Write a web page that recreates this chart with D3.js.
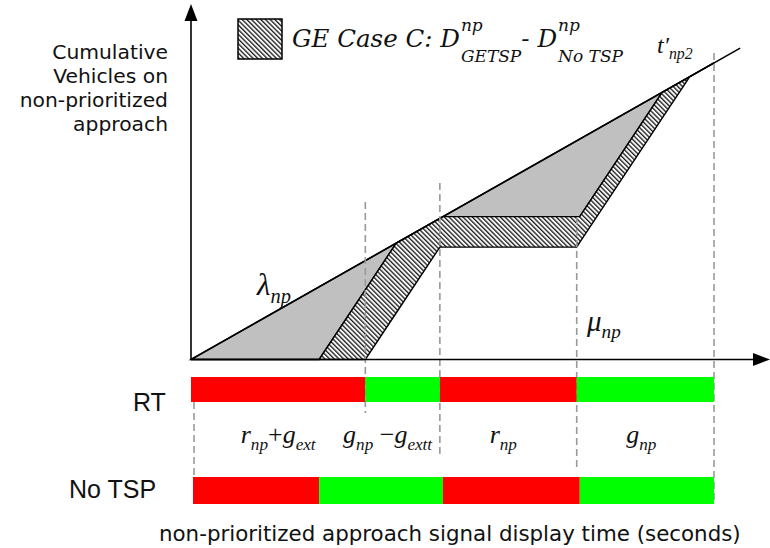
<!DOCTYPE html>
<html><head><meta charset="utf-8">
<script src="https://cdn.jsdelivr.net/npm/d3@7"></script>
<style>body{margin:0;background:#fff}</style>
</head><body><svg id="c" width="770" height="548"></svg>
<script>
// ---------------- data ----------------
const arrivalRate = 0.5;            // lambda_np (veh/s)
const saturationFlow = 1.33;        // mu_np (veh/s)
const arrivalEnd = 126;             // last time drawn for the arrival line
const phaseColors = ["red", "green", "red", "green"];
const rtPhaseEnds = [40, 57.1, 88.5, 120];      // RT (GE TSP) signal
const noTspPhaseEnds = [29.4, 57.8, 89.2, 120]; // No TSP signal
const signalRows = ["RT", "No TSP"];
const phaseLabels = [
  [["r","np"],["+"],["g","ext"]],
  [["g","np"],[" \u2212"],["g","extt"]],
  [["r","np"]],
  [["g","np"]]
];
const yTitleLines = ["Cumulative", "Vehicles on", "non-prioritized", "approach"];
const xTitle = "non-prioritized approach signal display time (seconds)";

// ---------------- setup ----------------
const svg = d3.select("#c");
const x = d3.scaleLinear().domain([0, 120]).range([191, 714]);
const y = d3.scaleLinear().domain([0, 70]).range([359.5, 13.5]);
const colorMap = {red: "#ff0000", green: "#00ff00"};

const defs = svg.append("defs");
const pat = defs.append("pattern").attr("id", "hatch")
  .attr("patternUnits", "userSpaceOnUse").attr("width", 8).attr("height", 3.3)
  .attr("patternTransform", "rotate(45)");
pat.append("rect").attr("width", 8).attr("height", 3.3).attr("fill", "#fff");
pat.append("line").attr("x1", 0).attr("x2", 8).attr("y1", 1).attr("y2", 1)
  .attr("stroke", "#222").attr("stroke-width", 1.4);

// cumulative departure curve from a signal plan
function departures(ends, colors) {
  const pts = [[0, 0]];
  let t = 0, D = 0;
  ends.forEach((e, i) => {
    if (colors[i] === "red") { pts.push([e, D]); }
    else {
      const A0 = arrivalRate * t;
      if (D >= A0 - 1e-9) { D = arrivalRate * e; pts.push([e, D]); }
      else {
        const tc = (D - saturationFlow * t) / (arrivalRate - saturationFlow);
        if (tc < e) { pts.push([tc, arrivalRate * tc]); D = arrivalRate * e; pts.push([e, D]); }
        else { D = D + saturationFlow * (e - t); pts.push([e, D]); }
      }
    }
    t = e;
  });
  return pts;
}
function evalAt(pts, t) {
  for (let i = 1; i < pts.length; i++) {
    if (t <= pts[i][0] + 1e-9) {
      const [t0, v0] = pts[i - 1], [t1, v1] = pts[i];
      return t1 === t0 ? v1 : v0 + (v1 - v0) * (t - t0) / (t1 - t0);
    }
  }
  return pts[pts.length - 1][1];
}
const D0 = departures(noTspPhaseEnds, phaseColors);
const D1 = departures(rtPhaseEnds, phaseColors);

const line = d3.line().x(d => x(d[0])).y(d => y(d[1]));

// gray: No TSP delay (between arrival and No TSP departure)
const grayPts = [[0, 0], [120, arrivalRate * 120]].concat(D0.slice().reverse());
svg.append("path").attr("d", line(grayPts) + "Z")
  .attr("fill", "#c0c0c0").attr("stroke", "#000").attr("stroke-width", 1.4);

// hatched: difference between No TSP departure and RT departure
const ts = Array.from(new Set(D0.map(d => d[0]).concat(D1.map(d => d[0])))).sort((a, b) => a - b);
const upper = ts.map(t => [t, evalAt(D0, t)]);
const lower = ts.map(t => [t, evalAt(D1, t)]).reverse();
svg.append("path").attr("d", line(upper.concat(lower)) + "Z")
  .attr("fill", "url(#hatch)").attr("stroke", "#000").attr("stroke-width", 1.4);

// arrival line
svg.append("path").attr("d", line([[0, 0], [arrivalEnd, arrivalRate * arrivalEnd]]))
  .attr("fill", "none").attr("stroke", "#000").attr("stroke-width", 1.6);

// dashed guide lines
const dashed = [
  {t: 0, y1: 402, y2: 479, dx: 3},
  {t: rtPhaseEnds[0], y1: 202, y2: 413, dx: 0},
  {t: rtPhaseEnds[1], y1: 183, y2: 457, dx: 0},
  {t: rtPhaseEnds[2], y1: 218, y2: 470, dx: 0},
  {t: rtPhaseEnds[3], y1: 53, y2: 504, dx: 0}
];
svg.selectAll(".dash").data(dashed).join("line")
  .attr("x1", d => x(d.t) + d.dx).attr("x2", d => x(d.t) + d.dx)
  .attr("y1", d => d.y1).attr("y2", d => d.y2)
  .attr("stroke", "#999").attr("stroke-width", 1.6).attr("stroke-dasharray", "7,4");

// axes
svg.append("line").attr("x1", x(0)).attr("x2", 757).attr("y1", y(0)).attr("y2", y(0))
  .attr("stroke", "#000").attr("stroke-width", 1.6);
svg.append("path").attr("d", `M770,${y(0)} L753,${y(0) - 6.5} L753,${y(0) + 6.5} Z`).attr("fill", "#000");
svg.append("line").attr("x1", x(0)).attr("x2", x(0)).attr("y1", y(0)).attr("y2", 18)
  .attr("stroke", "#000").attr("stroke-width", 1.6);
svg.append("path").attr("d", `M${x(0)},4 L${x(0) - 6.5},21 L${x(0) + 6.5},21 Z`).attr("fill", "#000");

// signal bars
function phases(ends) {
  return ends.map((e, i) => ({s: i ? ends[i - 1] : 0, e, c: phaseColors[i]}));
}
const rows = [
  {name: signalRows[0], ph: phases(rtPhaseEnds), y: 377, h: 25, lx: 133, ly: 411, inset: 0},
  {name: signalRows[1], ph: phases(noTspPhaseEnds), y: 477, h: 27, lx: 69, ly: 498, inset: 2}
];
rows.forEach((r, ri) => {
  svg.selectAll(".bar" + ri).data(r.ph).join("rect")
    .attr("x", d => x(d.s) + (d.s === 0 ? r.inset : 0)).attr("y", r.y)
    .attr("width", d => x(d.e) - x(d.s) - (d.s === 0 ? r.inset : 0)).attr("height", r.h)
    .attr("fill", d => colorMap[d.c]);
  svg.append("text").attr("x", r.lx).attr("y", r.ly).text(r.name)
    .attr("font-family", "Liberation Sans, Arial, sans-serif").attr("font-size", 25).attr("fill", "#111");
});

// math-like labels
function mathText(parent, parts, xPos, yPos, size, anchor) {
  const t = parent.append("text").attr("x", xPos).attr("y", yPos)
    .attr("font-family", "Liberation Serif, Times New Roman, serif")
    .attr("font-size", size).attr("text-anchor", anchor || "middle").attr("fill", "#111");
  let pending = 0;
  parts.forEach(p => {
    const m = t.append("tspan").text(p[0]).attr("font-style", /[a-z\u03bb\u03bc]/i.test(p[0]) ? "italic" : "normal");
    if (pending) { m.attr("dy", pending); pending = 0; }
    if (p[1]) {
      t.append("tspan").text(p[1]).attr("font-style", "italic").attr("font-size", size * 0.66).attr("dy", size * 0.25);
      pending = -size * 0.25;
    }
  });
  return t;
}
const labelOffsets = [0, -15, -5, -4];
phases(rtPhaseEnds).forEach((p, i) => {
  mathText(svg, phaseLabels[i], x((p.s + p.e) / 2) + labelOffsets[i], 443, 26);
});
mathText(svg, [["\u03BB", "np"]], 257, 295, 31, "start");
mathText(svg, [["\u03BC", "np"]], 587, 331, 29, "start");
mathText(svg, [["t\u2032", "np2"]], 657, 53, 24, "start");

// helper: fit font size so a sample string reaches a target width
function fitSize(family, sample, target, base) {
  const t = svg.append("text").attr("font-family", family).attr("font-size", base).text(sample);
  const w = t.node().getComputedTextLength();
  t.remove();
  return base * target / w;
}
const sansFam = "DejaVu Sans, sans-serif";

// y title
const ySize = Math.min(20.3, fitSize(sansFam, "non-prioritized", 160, 20));
svg.append("text").attr("font-family", sansFam).attr("font-size", ySize)
  .attr("text-anchor", "end").attr("fill", "#111")
  .selectAll("tspan").data(yTitleLines).join("tspan")
  .attr("x", 168).attr("y", (d, i) => 59 + i * 24).text(d => d);

// x title
const xSize = fitSize(sansFam, xTitle, 582, 20);
svg.append("text").attr("x", 159).attr("y", 541)
  .attr("font-family", sansFam).attr("font-size", xSize).attr("fill", "#111")
  .text(xTitle);

// legend
svg.append("rect").attr("x", 238).attr("y", 19).attr("width", 44).attr("height", 40)
  .attr("fill", "url(#hatch)").attr("stroke", "#000").attr("stroke-width", 1.5);
const lf = "DejaVu Serif, serif";
let lx = 292;
function put(txt, xx, yy, size) {
  const t = svg.append("text").attr("x", xx).attr("y", yy).attr("font-family", lf)
    .attr("font-style", "italic").attr("font-size", size).attr("fill", "#111").text(txt);
  return t.node().getComputedTextLength();
}
lx += put("GE Case C: D", lx, 47, 24.5);
const w1 = Math.max(put("np", lx + 1, 31, 17), put("GETSP", lx + 1, 62, 17));
lx += w1 + 1;
lx += put("- D", lx, 47, 24.5);
put("np", lx + 1, 31, 17);
put("No TSP", lx + 1, 62, 17);
</script></body></html>
